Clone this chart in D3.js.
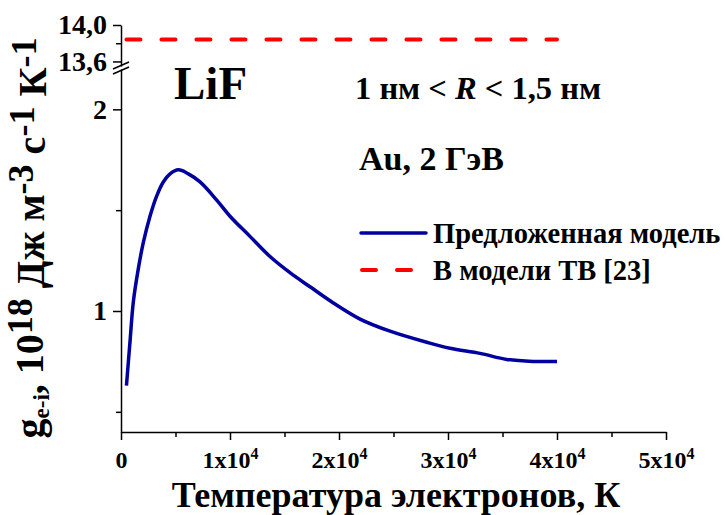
<!DOCTYPE html>
<html>
<head>
<meta charset="utf-8">
<script src="https://cdn.jsdelivr.net/npm/d3@7"></script>
</head>
<body style="margin:0;background:#fff">
<svg width="725" height="515"></svg>
<script>
// electron temperature, K
const temps = [500, 830, 1130, 1590, 2050, 2660, 3270, 3880, 4500, 5260, 6180, 7250, 8780, 10000,
  11830, 13670, 15500, 17340, 19480, 21930, 24680, 28040, 30180, 32940, 35380, 37800, 40000];
// proposed model, 10^18 J m^-3 s^-1 K^-1
const gModel = [0.63, 0.85, 1.045, 1.21, 1.34, 1.47, 1.57, 1.64, 1.68, 1.70, 1.68, 1.64, 1.55, 1.47,
  1.37, 1.27, 1.19, 1.12, 1.04, 0.96, 0.90, 0.845, 0.815, 0.79, 0.76, 0.75, 0.75];
// TB model (constant)
const tbTemps = [500, 40000];
const gTB = [13.84, 13.84];

const xTicks = [0, 10000, 20000, 30000, 40000, 50000];
const xMinor = [5000, 15000, 25000, 35000, 45000];
const yLowTicks = [1, 2];
const yLowMinor = [0.5, 1.5];
const yHighTicks = [13.6, 14.0];
const yHighMinor = [13.8];
const legendLabels = ['Предложенная модель', 'В модели ТВ [23]'];

const FONT = '"Liberation Serif", "Times New Roman", serif';

const svg = d3.select('svg');
const x = d3.scaleLinear().domain([0, 50000]).range([121, 666]);
const yLow = d3.scaleLinear().domain([0.4, 2.2]).range([432, 69]);
const yHigh = d3.scaleLinear().domain([13.55, 14.0]).range([66, 25]);

const fmtComma = d => d3.format('.1f')(d).replace('.', ',');

// x axis
const gx = svg.append('g').attr('transform', `translate(0,${yLow.range()[0]})`);
gx.call(d3.axisBottom(x).tickValues(xTicks).tickSize(8).tickSizeOuter(0).tickPadding(11));
gx.selectAll('.tick text')
  .style('font-size', '24px')
  .each(function(d) {
    const t = d3.select(this).text('');
    if (d === 0) { t.text('0'); return; }
    t.append('tspan').text(`${d / 10000}x10`);
    t.append('tspan').style('font-size', '16px').attr('dy', '-0.55em').text('4');
  });
gx.append('g').call(d3.axisBottom(x).tickValues(xMinor).tickSize(5).tickFormat(''))
  .select('.domain').remove();

// lower y axis
const gyl = svg.append('g').attr('transform', `translate(${x.range()[0]},0)`);
gyl.call(d3.axisLeft(yLow).tickValues(yLowTicks).tickSize(8).tickSizeOuter(0).tickPadding(6).tickFormat(d3.format('d')));
gyl.selectAll('.tick text').style('font-size', '28px');
gyl.append('g').call(d3.axisLeft(yLow).tickValues(yLowMinor).tickSize(5).tickFormat(''))
  .select('.domain').remove();

// upper y axis
const gyh = svg.append('g').attr('transform', `translate(${x.range()[0]},0)`);
gyh.call(d3.axisLeft(yHigh).tickValues(yHighTicks).tickSize(8).tickSizeOuter(0).tickPadding(6).tickFormat(fmtComma));
gyh.selectAll('.tick text').style('font-size', '28px');
gyh.append('g').call(d3.axisLeft(yHigh).tickValues(yHighMinor).tickSize(5).tickFormat(''))
  .select('.domain').remove();

svg.selectAll('.domain, .tick line').attr('stroke', '#000').attr('stroke-width', 1.5);

// axis break marks
const bx = x.range()[0];
[0, 5].forEach(o => {
  svg.append('line')
    .attr('x1', bx - 8).attr('y1', 69 + o).attr('x2', bx + 8).attr('y2', 62 + o)
    .attr('stroke', '#000').attr('stroke-width', 1.5);
});

// curves
const lineLow = d3.line().x(d => x(d[0])).y(d => yLow(d[1])).curve(d3.curveCatmullRom.alpha(0.5));
const lineHigh = d3.line().x(d => x(d[0])).y(d => yHigh(d[1]));

svg.append('path')
  .datum(d3.zip(tbTemps, gTB))
  .attr('d', lineHigh)
  .attr('fill', 'none').attr('stroke', '#ff0000').attr('stroke-width', 4)
  .attr('stroke-linecap', 'round').attr('stroke-dasharray', '14,21');

svg.append('path')
  .datum(d3.zip(temps, gModel))
  .attr('d', lineLow)
  .attr('fill', 'none').attr('stroke', '#0000a0').attr('stroke-width', 3.5)
  .attr('stroke-linejoin', 'round');

// legend
const leg = svg.append('g');
leg.append('line').attr('x1', 361).attr('x2', 426).attr('y1', 233).attr('y2', 233)
  .attr('stroke', '#0000a0').attr('stroke-width', 3.5).attr('stroke-linecap', 'round');
leg.append('line').attr('x1', 362).attr('x2', 414).attr('y1', 270).attr('y2', 270)
  .attr('stroke', '#ff0000').attr('stroke-width', 4).attr('stroke-linecap', 'round')
  .attr('stroke-dasharray', '14,21');
leg.selectAll('text.lg').data(legendLabels).join('text')
  .attr('class', 'lg')
  .attr('x', 433).attr('y', (d, i) => 243 + i * 37)
  .style('font-size', '28.5px')
  .text(d => d);

// annotations
svg.append('text').attr('x', 174).attr('y', 99).style('font-size', '47px').text('LiF');
const rt = svg.append('text').attr('x', 355).attr('y', 99).style('font-size', '32.5px');
rt.append('tspan').text('1 нм < ');
rt.append('tspan').style('font-style', 'italic').text('R');
rt.append('tspan').text(' < 1,5 нм');
svg.append('text').attr('x', 359).attr('y', 170).style('font-size', '34px').text('Au, 2 ГэВ');

// axis titles
svg.append('text').attr('x', 396).attr('y', 507).attr('text-anchor', 'middle')
  .style('font-size', '36px').text('Температура электронов, К');

const yt = svg.append('text')
  .attr('transform', 'translate(43,238) rotate(-90)')
  .attr('text-anchor', 'middle').style('font-size', '40px');
yt.append('tspan').text('g');
yt.append('tspan').style('font-size', '23px').attr('dy', '0.25em').text('e-i');
yt.append('tspan').attr('dy', '-0.15em').text(', 10');
yt.append('tspan').style('font-size', '36px').attr('dy', '-0.3em').text('18');
yt.append('tspan').attr('dy', '0.3em').text(' Дж м');
yt.append('tspan').style('font-size', '36px').attr('dy', '-0.3em').text('-3');
yt.append('tspan').attr('dy', '0.3em').text(' с');
yt.append('tspan').style('font-size', '36px').attr('dy', '-0.3em').text('-1');
yt.append('tspan').attr('dy', '0.3em').text(' К');
yt.append('tspan').style('font-size', '36px').attr('dy', '-0.3em').text('-1');

svg.selectAll('text')
  .style('font-family', FONT)
  .style('font-weight', 'bold')
  .attr('fill', '#000');
</script>
</body>
</html>
